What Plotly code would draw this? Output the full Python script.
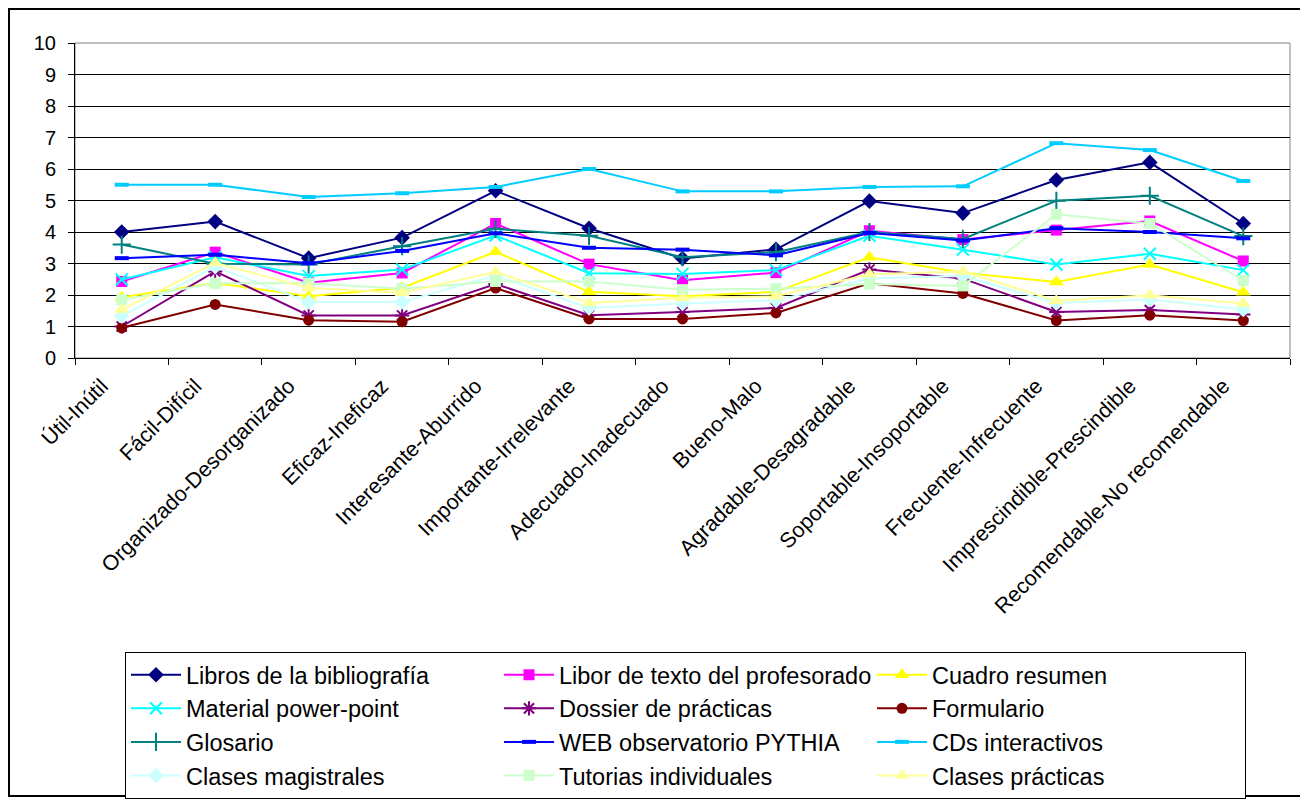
import plotly.graph_objects as go

categories = ['Útil-Inútil', 'Fácil-Difícil', 'Organizado-Desorganizado', 'Eficaz-Ineficaz',
              'Interesante-Aburrido', 'Importante-Irrelevante', 'Adecuado-Inadecuado',
              'Bueno-Malo', 'Agradable-Desagradable', 'Soportable-Insoportable',
              'Frecuente-Infrecuente', 'Imprescindible-Prescindible', 'Recomendable-No recomendable']

libros = [4.0, 4.33, 3.17, 3.82, 5.31, 4.12, 3.16, 3.45, 4.98, 4.6, 5.65, 6.21, 4.27]
libor = [2.43, 3.36, 2.39, 2.7, 4.27, 2.98, 2.47, 2.71, 4.04, 3.76, 4.06, 4.35, 3.08]
cuadro = [1.93, 2.38, 1.96, 2.23, 3.37, 2.1, 1.96, 2.1, 3.2, 2.71, 2.41, 2.97, 2.09]
material = [2.49, 3.2, 2.6, 2.81, 3.89, 2.69, 2.67, 2.79, 3.88, 3.44, 2.97, 3.31, 2.79]
dossier = [1.0, 2.75, 1.35, 1.35, 2.35, 1.36, 1.46, 1.59, 2.81, 2.52, 1.46, 1.52, 1.38]
formulario = [0.96, 1.7, 1.2, 1.15, 2.22, 1.24, 1.24, 1.43, 2.37, 2.05, 1.19, 1.36, 1.19]
glosario = [3.6, 2.99, 2.97, 3.55, 4.1, 3.88, 3.2, 3.36, 4.0, 3.78, 4.99, 5.15, 3.87]
web = [3.17, 3.28, 3.01, 3.4, 3.96, 3.5, 3.44, 3.26, 3.97, 3.73, 4.12, 4.0, 3.8]
cds = [5.5, 5.5, 5.11, 5.23, 5.43, 6.0, 5.29, 5.29, 5.43, 5.45, 6.82, 6.6, 5.62]
magistrales = [1.33, 2.9, 1.78, 1.78, 2.62, 1.59, 1.73, 1.83, 2.52, 2.6, 1.75, 1.86, 1.54]
tutorias = [1.85, 2.37, 2.37, 2.2, 2.43, 2.43, 2.17, 2.2, 2.35, 2.29, 4.56, 4.27, 2.46]
practicas = [1.54, 3.02, 2.22, 2.07, 2.73, 1.75, 1.91, 1.96, 2.66, 2.75, 1.82, 1.99, 1.73]

series_names = ["Libros de la bibliografía", "Libor de texto del profesorado", "Cuadro resumen",
                "Material power-point", "Dossier de prácticas", "Formulario",
                "Glosario", "WEB observatorio PYTHIA", "CDs interactivos",
                "Clases magistrales", "Tutorias individuales", "Clases prácticas"]
series_values = [libros, libor, cuadro, material, dossier, formulario,
                 glosario, web, cds, magistrales, tutorias, practicas]
series_colors = ["#000080", "#FF00FF", "#FFFF00", "#00FFFF", "#800080", "#800000",
                 "#008080", "#0000FF", "#00CCFF", "#CCFFFF", "#CCFFCC", "#FFFF99"]
series_symbols = ["diamond", "square", "triangle-up", "x-thin-open", "asterisk-open", "circle",
                  "cross-thin-open", "line-ew-open", "line-ew-open", "diamond", "square", "triangle-up"]
series_sizes = [12, 11, 13, 12, 12, 11, 13, 10, 10, 12, 11, 13]

fig = go.Figure()
for name, vals, color, symbol, size in zip(series_names, series_values, series_colors,
                                           series_symbols, series_sizes):
    if symbol.endswith("open"):
        lw = 4 if symbol.startswith("line") else 2
        marker = dict(symbol=symbol, size=size, color=color, line=dict(width=lw, color=color))
    else:
        marker = dict(symbol=symbol, size=size, color=color, line=dict(width=0))
    fig.add_trace(go.Scatter(x=categories, y=vals, name=name, mode="lines+markers",
                             line=dict(color=color, width=2), marker=marker))

# the page body has an 8px margin; the figure is sized to fit the window
W, H = 1300, 791
L, R, T, B = 67, 18, 35, 441
pw, ph = W - L - R, H - T - B

def px_x(x):
    return (x - L) / pw

def px_y(y):
    return (H - B - y) / ph

fig.update_layout(
    width=W, height=H,
    margin=dict(l=L, r=R, t=T, b=B, autoexpand=False),
    paper_bgcolor="white", plot_bgcolor="white",
    font=dict(family="Liberation Sans, Arial, sans-serif", size=20, color="black"),
    xaxis=dict(type="category", range=[-0.5, 12.5], tickangle=-45, tickson="boundaries",
               ticks="outside", ticklen=6, tickcolor="black", showline=True,
               linecolor="black", linewidth=1, showgrid=False,
               ticklabelstandoff=6, ticklabelshift=-20,
               tickfont=dict(size=21.5, color="black")),
    yaxis=dict(range=[0, 10], dtick=1, ticks="outside", ticklen=6, tickcolor="black",
               showline=True, linecolor="black", linewidth=1, gridcolor="black",
               gridwidth=1, zeroline=False, ticklabelstandoff=8,
               tickfont=dict(size=20, color="black")),
    legend=dict(orientation="h", x=px_x(117), y=px_y(644), xanchor="left", yanchor="top",
                entrywidth=308, entrywidthmode="pixels", itemwidth=50,
                font=dict(size=23.5, color="black"), bordercolor="black", borderwidth=1,
                bgcolor="white", traceorder="normal"),
    showlegend=True,
    shapes=[
        dict(type="rect", xref="paper", yref="paper", x0=0, x1=1, y0=0, y1=1,
             line=dict(color="#808080", width=1), layer="below"),
        dict(type="rect", xref="paper", yref="paper", x0=px_x(1), x1=px_x(1297),
             y0=px_y(788), y1=px_y(1), line=dict(color="black", width=2), layer="below"),
    ],
)

fig.write_html("out.html")
